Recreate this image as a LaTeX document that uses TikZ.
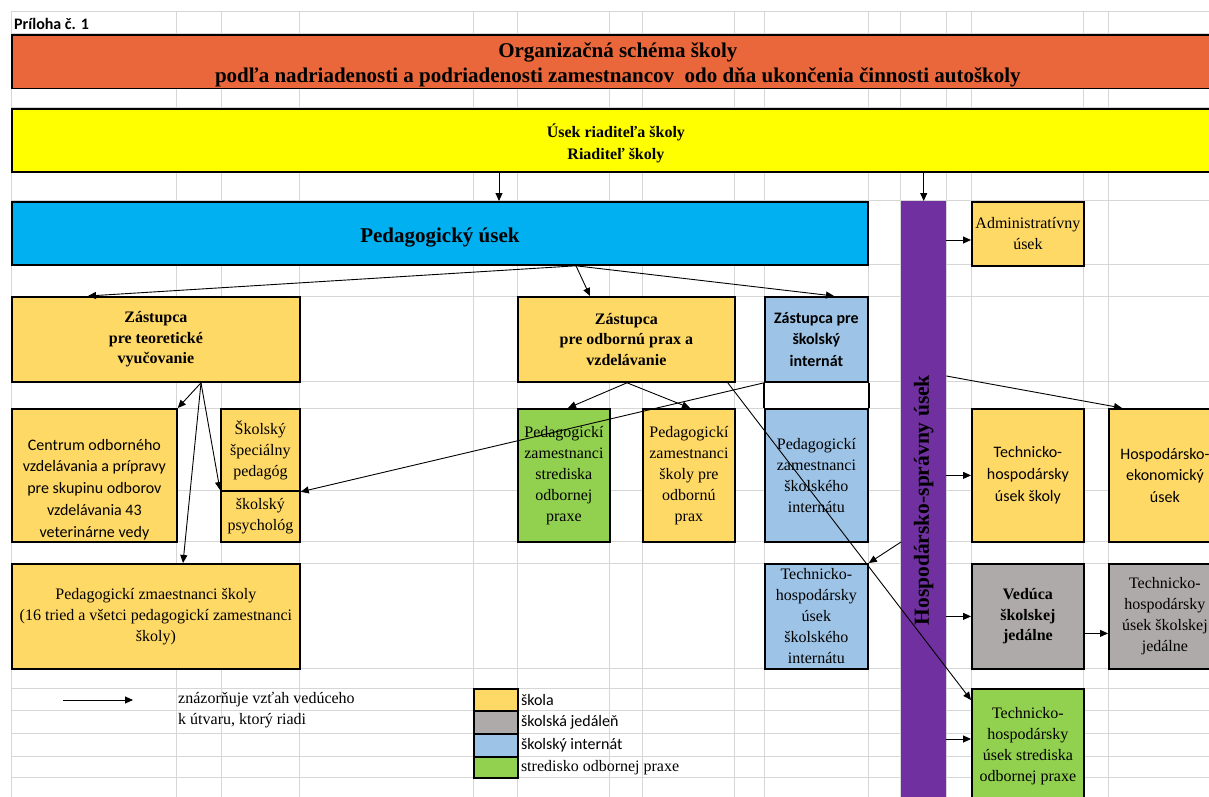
\documentclass[tikz,border=0pt]{standalone}
\usepackage{fontspec}
\setmainfont{Liberation Serif}
\newfontfamily\calibrifont{Carlito}
\usetikzlibrary{arrows.meta}

\definecolor{titulna}{RGB}{233,103,58}
\definecolor{riaditelska}{RGB}{255,255,0}
\definecolor{pedagogicka}{RGB}{0,176,240}
\definecolor{skola}{RGB}{255,217,102}
\definecolor{jedalen}{RGB}{174,170,170}
\definecolor{internat}{RGB}{157,195,230}
\definecolor{prax}{RGB}{146,208,80}
\definecolor{spravna}{RGB}{112,48,160}
\definecolor{mriezka}{RGB}{214,214,214}

\begin{document}
\begin{tikzpicture}[x=1pt, y=-1pt,
	cellbox/.style={draw, line width=1.8pt, anchor=north west, align=center, inner sep=1pt, font=\fontsize{16}{21}\selectfont},
	cellbold/.style={cellbox, font=\bfseries\fontsize{16}{20.5}\selectfont},
	cellsans/.style={cellbox, font=\calibrifont\fontsize{16}{21.7}\selectfont},
	link/.style={-{Triangle[length=8pt,width=7pt]}, line width=0.9pt},
	gridline/.style={draw=mriezka, line width=1pt}]

	\clip (0,0) rectangle (1209,797);

	% mriezka harku
	\foreach \x in {11,176,221,299,473,517,609,642,734,764,868,900,946,971,1083,1108}
		\draw[gridline] (\x,12) -- (\x,800);
	\foreach \y in {12,34,86,108,171,200,264,296,381,408,490,541,563,668,688,710,733,756,777}
		\draw[gridline] (11,\y) -- (1215,\y);

	\node[anchor=west, inner sep=2pt, font=\calibrifont\bfseries\fontsize{16}{18}\selectfont] (priloha) at (12,24) {Príloha č. 1};

	\node[cellbox, fill=titulna, minimum width=1212pt, minimum height=52pt, font=\bfseries\fontsize{21}{25.5}\selectfont] (nazov) at (11,34) {\rule{0pt}{21.5pt}Organizačná schéma školy\\podľa nadriadenosti a podriadenosti zamestnancov \ odo dňa ukončenia činnosti autoškoly};
	\node[cellbox, fill=riaditelska, minimum width=1208pt, minimum height=63pt, font=\bfseries\fontsize{16}{22}\selectfont] (riaditel) at (11,108) {\rule{0pt}{19.5pt}Úsek riaditeľa školy\\Riaditeľ školy};

	\node[cellbox, fill=pedagogicka, minimum width=856pt, minimum height=63pt, font=\bfseries\fontsize{21}{24}\selectfont] (pedusek) at (11,201) {\rule{0pt}{22.5pt}Pedagogický úsek};
	\node[anchor=north west, fill=spravna, minimum width=45pt, minimum height=610pt, inner sep=0pt] (hsu) at (901,201) {};
	\node[rotate=90, font=\bfseries\fontsize{21.5}{24}\selectfont] (hsutxt) at ([yshift=6pt]hsu.center) {Hospodársko-správny úsek};
	\node[cellbox, fill=skola, minimum width=112pt, minimum height=64pt] (admin) at (971,201) {Administratívny\\úsek};

	\node[cellbold, fill=skola, minimum width=288pt, minimum height=85pt] (zteor) at (11,296) {Zástupca\\pre teoretické\\vyučovanie};
	\node[cellbold, fill=skola, minimum width=217pt, minimum height=85pt] (zprax) at (517,296) {Zástupca\\pre odbornú prax a\\vzdelávanie};
	\node[cellsans, fill=internat, minimum width=103pt, minimum height=85pt, font=\calibrifont\bfseries\fontsize{16}{21.5}\selectfont] (zint) at (764,296) {Zástupca pre\\školský\\internát};

	\node[cellbox, fill=skola, minimum width=165pt, minimum height=133pt] (cov) at (11,408) {};
	\node[anchor=south, align=center, inner sep=1pt, font=\calibrifont\fontsize{16}{21.7}\selectfont] (covtxt) at ([yshift=2pt]cov.south) {Centrum odborného\\vzdelávania a prípravy\\pre skupinu odborov\\vzdelávania 43\\veterinárne vedy};
	\node[cellbox, fill=skola, minimum width=79pt, minimum height=82pt] (specped) at (220,408) {Školský\\špeciálny\\pedagóg};
	\node[cellbox, fill=skola, minimum width=79pt, minimum height=51pt] (psych) at (220,490) {školský\\psychológ};
	\node[cellbox, fill=prax, minimum width=92pt, minimum height=133pt] (pedsop) at (517,408) {Pedagogickí\\zamestnanci\\strediska\\odbornej\\praxe};
	\node[cellbox, fill=skola, minimum width=92pt, minimum height=133pt] (pedprax) at (642,408) {Pedagogickí\\zamestnanci\\školy pre\\odbornú\\prax};
	\node[cellbox, fill=internat, minimum width=103pt, minimum height=133pt] (pedint) at (764,408) {Pedagogickí\\zamestnanci\\školského\\internátu};
	\draw[line width=1.8pt] (zint.south west) -- (pedint.north west);
	\draw[line width=1.8pt] (zint.south east) -- (pedint.north east);
	\node[cellsans, fill=skola, minimum width=112pt, minimum height=133pt] (thskoly) at (971,408) {Technicko-\\hospodársky\\úsek školy};
	\node[cellsans, fill=skola, minimum width=112pt, minimum height=133pt] (hek) at (1108,408) {Hospodársko-\\ekonomický\\úsek};

	\node[cellbox, fill=skola, minimum width=288pt, minimum height=105pt] (pedskoly) at (11,563) {Pedagogickí zmaestnanci školy\\(16 tried a všetci pedagogickí zamestnanci\\školy)};
	\node[cellbox, fill=internat, minimum width=103pt, minimum height=105pt] (thint) at (764,563) {Technicko-\\hospodársky\\úsek\\školského\\internátu};
	\node[cellbold, fill=jedalen, minimum width=112pt, minimum height=105pt] (veduca) at (971,563) {Vedúca\\školskej\\jedálne};
	\node[cellbox, fill=jedalen, minimum width=112pt, minimum height=105pt] (thjed) at (1108,563) {Technicko-\\hospodársky\\úsek školskej\\jedálne};
	\node[cellbox, fill=prax, minimum width=112pt, minimum height=114pt] (thsop) at (971,688) {Technicko-\\hospodársky\\úsek strediska\\odbornej praxe};

	% vztahy riadenia
	\draw[link] ([xshift=488pt]riaditel.south west) -- ([xshift=488pt]pedusek.north west);
	\draw[link] (riaditel.south -| hsu.north) -- (hsu.north);
	\draw[link] ([xshift=565pt]pedusek.south west) -- ([xshift=77pt]zteor.north west);
	\draw[link] ([xshift=565pt]pedusek.south west) -- ([xshift=73pt]zprax.north west);
	\draw[link] ([xshift=565pt]pedusek.south west) -- ([xshift=70pt]zint.north west);

	\draw[link] ([xshift=190pt]zteor.south west) -- (cov.north east);
	\draw[link] ([xshift=190pt]zteor.south west) -- ([xshift=172pt]pedskoly.north west);
	\draw[link] ([xshift=190pt]zteor.south west) -- (psych.north west);

	\draw[link] ([xshift=110pt]zprax.south west) -- ([xshift=51pt]pedsop.north west);
	\draw[link] ([xshift=110pt]zprax.south west) -- ([xshift=48pt]pedprax.north west);
	\draw[link] ([xshift=-8pt]zprax.south east) -- ([yshift=-12pt]thsop.north west);
	\draw[link] (zint.south west) -- (specped.south east);

	\draw[link] ([yshift=-341pt]hsu.north west) -- (thint.north east);
	\draw[link] ([yshift=-175pt]hsu.north east) -- ([xshift=14pt]hek.north west);
	\coordinate (padm) at ([yshift=-39pt]admin.north west);
	\draw[link] (padm -| hsu.east) -- (padm);
	\draw[link] (thskoly.west -| hsu.east) -- (thskoly.west);
	\draw[link] (veduca.west -| hsu.east) -- (veduca.west);
	\coordinate (pjed) at ([yshift=-17pt]veduca.east);
	\draw[link] (pjed) -- (pjed -| thjed.west);
	\coordinate (psop) at ([yshift=-51pt]thsop.north west);
	\draw[link] (psop -| hsu.east) -- (psop);

	% legenda
	\coordinate (leg1) at (63,700);
	\coordinate (leg2) at (133,700);
	\draw[link] (leg1) -- (leg2);
	\node[anchor=west, align=left, inner sep=2pt, font=\fontsize{16}{21}\selectfont] (legtxt) at (176,710.5) {znázorňuje vzťah vedúceho\\k útvaru, ktorý riadi};
	\node[cellbox, fill=skola, minimum width=44pt, minimum height=22pt] (lskola) at (473,688) {};
	\node[cellbox, fill=jedalen, minimum width=44pt, minimum height=23pt] (ljedalen) at (473,710) {};
	\node[cellbox, fill=internat, minimum width=44pt, minimum height=23pt] (linternat) at (473,733) {};
	\node[cellbox, fill=prax, minimum width=44pt, minimum height=21pt] (lprax) at (473,756) {};
	\node[anchor=west, inner sep=2pt, font=\calibrifont\fontsize{16}{19}\selectfont] (tskola) at (lskola.east) {škola};
	\node[anchor=west, inner sep=2pt, font=\calibrifont\fontsize{16}{19}\selectfont] (tjedalen) at (ljedalen.east) {školská jedáleň};
	\node[anchor=west, inner sep=2pt, font=\calibrifont\fontsize{16}{19}\selectfont] (tinternat) at (linternat.east) {školský internát};
	\node[anchor=west, inner sep=2pt, font=\fontsize{16}{19}\selectfont] (tprax) at (lprax.east) {stredisko odbornej praxe};
\end{tikzpicture}
\end{document}
